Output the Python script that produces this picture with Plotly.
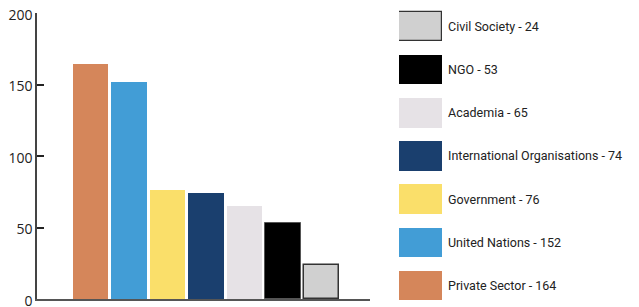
import plotly.graph_objects as go

categories = ["Private Sector", "United Nations", "Government", "International Organisations",
              "Academia", "NGO", "Civil Society"]
values = [164, 152, 76, 74, 65, 53, 24]
colors = ["#D5865A", "#429DD6", "#FADF6A", "#1A3F6E", "#E6E2E6", "#000000", "#D0D0D0"]
line_colors = ["rgba(0,0,0,0)"] * 5 + ["#555555", "#333333"]
line_widths = [0, 0, 0, 0, 0, 1, 1.5]
y_ticks = [0, 50, 100, 150, 200]

# page body has an 8px margin: the figure starts at (8, 8) in the window
OFF = 8
W, H = 639 - OFF, 307 - OFF


def px(p):
    return (p - OFF) / W


def py(q):
    return (307 - q) / H


fig = go.Figure()

# main bars
fig.add_trace(go.Bar(
    x=list(range(len(categories))), y=values,
    marker=dict(color=colors, line=dict(color=line_colors, width=line_widths)),
    width=0.91, showlegend=False, hoverinfo="x+y",
    xaxis="x", yaxis="y",
))

# legend swatches as horizontal bars on a second axis pair
fig.add_trace(go.Bar(
    y=list(range(len(categories))), x=[1] * len(categories), orientation="h",
    marker=dict(color=colors, line=dict(color=["rgba(0,0,0,0)"] * 6 + ["#333333"],
                                         width=[0] * 6 + [1.2])),
    width=0.68, showlegend=False, hoverinfo="skip",
    xaxis="x2", yaxis="y2",
))

for i, (c, v) in enumerate(zip(categories, values)):
    fig.add_annotation(
        x=px(446), xref="paper", y=i, yref="y2",
        text=f"{c} - {v}", showarrow=False, xanchor="left", yanchor="middle",
        font=dict(family="Roboto, sans-serif", size=12.5, color="#222222"),
    )

fig.update_layout(
    width=W, height=H,
    margin=dict(l=0, r=0, t=0, b=0, autoexpand=False),
    paper_bgcolor="white", plot_bgcolor="white",
    bargap=0,
    xaxis=dict(domain=[px(37), px(370)], range=[-1.39, 7.26], showticklabels=False,
               ticks="", showgrid=False, zeroline=False, showline=True,
               linecolor="#555555", linewidth=2, fixedrange=True, automargin=False),
    yaxis=dict(domain=[py(299), py(13)], range=[0, 200], tickvals=y_ticks,
               ticks="inside", ticklen=7, tickcolor="#222222", tickwidth=1.5,
               showgrid=False, zeroline=False, showline=True, linecolor="#444444",
               linewidth=1.5, automargin=False, ticklabeloverflow="allow",
               ticklabelshift=2,
               tickfont=dict(family="Open Sans, sans-serif", size=14, color="#222222"),
               fixedrange=True),
    xaxis2=dict(domain=[px(399), px(442)], range=[0, 1], visible=False, anchor="y2"),
    yaxis2=dict(domain=[0, 1], range=[-0.5, 6.43], visible=False, anchor="x2"),
)

fig.write_html("out.html")
